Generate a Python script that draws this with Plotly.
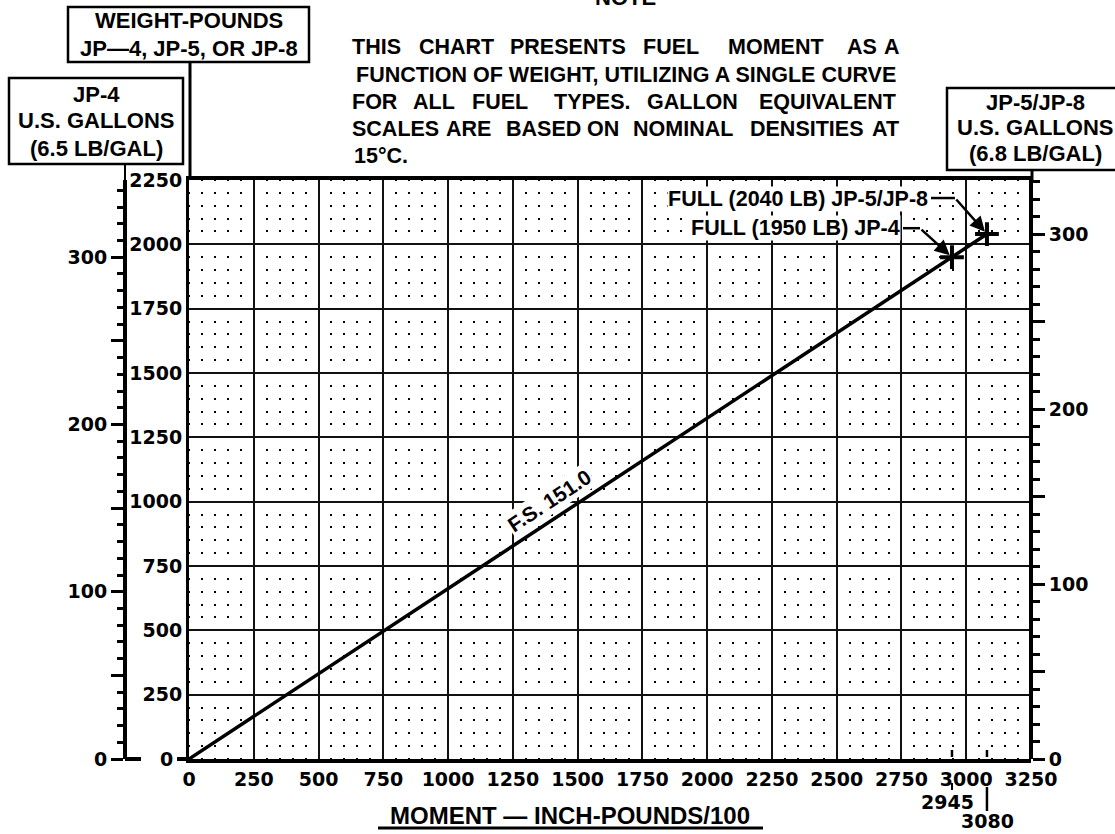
import math
import numpy as np
import plotly.graph_objects as go

W, H = 1115, 834

# ---------------- data ----------------
moment = [0, 2945, 3080]            # moment, inch-pounds / 100
weight_lb = [0, 1950, 2040]         # fuel weight, pounds (F.S. 151.0 arm)
full_moment = [2945, 3080]
full_weight = [1950, 2040]
full_labels = ["FULL (1950 LB) JP-4", "FULL (2040 LB) JP-5/JP-8"]
station_label = "F.S. 151.0"

moment_ticks = [0, 250, 500, 750, 1000, 1250, 1500, 1750, 2000, 2250, 2500, 2750, 3000, 3250]
weight_ticks = [0, 250, 500, 750, 1000, 1250, 1500, 1750, 2000, 2250]
gallon_ticks = [0, 50, 100, 150, 200, 250, 300]
gallon_tick_text = ["0", "", "100", "", "200", "", "300"]
jp4_lb_per_gal = 6.5
jp58_lb_per_gal = 6.8
moment_range = [0, 3250]
weight_range = [0, 2250]

# ---------------- layout helpers ----------------
L, R, T, B = 189, 1031, 180, 759       # plot box in pixels


def px(x):
    return x / W


def py(y):
    return 1 - y / H


dx = (R - L) / ((moment_range[1] - moment_range[0]) / 50)
dy = (B - T) / ((weight_range[1] - weight_range[0]) / 50)

NUM = dict(family="DejaVu Sans", size=19, color="black", weight="bold")

annotations = []
shapes = []


def text(s, x, y, size=21.5, anchor="center", family="Liberation Sans", **kw):
    annotations.append(dict(
        text=s, x=px(x), y=py(y), xref="paper", yref="paper",
        xanchor=anchor, yanchor="middle", showarrow=False,
        font=dict(family=family, size=size, color="black", weight="bold"), **kw))


def seg(x0, y0, x1, y1, w=3):
    shapes.append(dict(type="line", xref="paper", yref="paper",
                       x0=px(x0), y0=py(y0), x1=px(x1), y1=py(y1),
                       line=dict(color="black", width=w)))


def box(x0, y0, x1, y1):
    shapes.append(dict(type="rect", xref="paper", yref="paper",
                       x0=px(x0), y0=py(y0), x1=px(x1), y1=py(y1),
                       line=dict(color="black", width=2.5)))


# ---------------- traces ----------------
fig = go.Figure()
fig.add_trace(go.Scatter(x=moment, y=weight_lb, mode="lines",
                         line=dict(color="black", width=3.5), hoverinfo="skip"))
fig.add_trace(go.Scatter(x=full_moment, y=full_weight, mode="markers",
                         marker=dict(symbol="cross-thin", size=17,
                                     line=dict(color="black", width=4)),
                         hoverinfo="skip"))
# anchors for the two gallon scales
fig.add_trace(go.Scatter(x=[0], y=[0], yaxis="y2", mode="markers",
                         marker=dict(opacity=0), hoverinfo="skip"))
fig.add_trace(go.Scatter(x=[0], y=[0], yaxis="y3", mode="markers",
                         marker=dict(opacity=0), hoverinfo="skip"))

grid_major = dict(showgrid=True, gridcolor="#111", gridwidth=1.8)

fig.update_layout(
    template="none",
    width=W, height=H,
    margin=dict(l=0, r=0, t=0, b=0),
    paper_bgcolor="white", plot_bgcolor="white",
    showlegend=False,
    xaxis=dict(
        domain=[px(L), px(R)], range=moment_range, automargin=False,
        tickmode="array", tickvals=moment_ticks,
        ticktext=[str(v) for v in moment_ticks],
        ticks="", tickfont=NUM, zeroline=False,
        showline=True, linecolor="black", linewidth=4, mirror=True,
        minor=dict(tickmode="linear", tick0=0, dtick=50, ticks="", showgrid=True,
                   gridcolor="black", gridwidth=2,
                   griddash=f"1px,{dy - 2:.3f}px,1px,0px"),
        **grid_major),
    yaxis=dict(
        domain=[py(B), py(T)], range=weight_range, automargin=False,
        tickmode="array", tickvals=weight_ticks,
        ticktext=[""] + [str(v) for v in weight_ticks[1:]],
        ticks="", tickfont=NUM, zeroline=False,
        showline=True, linecolor="black", linewidth=3,
        minor=dict(tickmode="linear", tick0=0, dtick=50, ticks="", showgrid=True,
                   gridcolor="black", gridwidth=2,
                   griddash=f"1px,{dx - 2:.3f}px,1px,0px"),
        **grid_major),
    yaxis2=dict(
        overlaying="y", anchor="free", position=px(125), side="left",
        range=[0, weight_range[1] / jp4_lb_per_gal], automargin=False,
        tickmode="array", tickvals=gallon_ticks, ticktext=gallon_tick_text,
        ticks="outside", ticklen=12, tickwidth=3, tickcolor="black",
        minor=dict(tickmode="linear", tick0=0, dtick=10, ticks="outside",
                   ticklen=6, tickwidth=3, tickcolor="black", showgrid=False),
        showline=True, linecolor="black", linewidth=4,
        showgrid=False, zeroline=False, tickfont=NUM),
    yaxis3=dict(
        overlaying="y", anchor="free", position=px(R), side="right",
        range=[0, weight_range[1] / jp58_lb_per_gal], automargin=False,
        tickmode="array", tickvals=gallon_ticks, ticktext=gallon_tick_text,
        ticks="outside", ticklen=12, tickwidth=3, tickcolor="black",
        minor=dict(tickmode="linear", tick0=0, dtick=10, ticks="outside",
                   ticklen=7, tickwidth=3, tickcolor="black", showgrid=False),
        showline=True, linecolor="black", linewidth=4,
        showgrid=False, zeroline=False, tickfont=NUM),
)

# ---------------- scale header boxes ----------------
box(68, 7, 309, 62)
text("WEIGHT-POUNDS", 188.5, 21, size=22)
text("JP\u20144, JP-5, OR JP-8", 188.5, 49, size=22)
seg(190, 62, 190, 180, w=3)

box(9, 78, 183, 164)
text("JP-4", 96, 95, size=22)
text("U.S. GALLONS", 96, 121, size=22)
text("(6.5 LB/GAL)", 96, 148, size=22)
seg(125, 164, 125, 180, w=2)

box(947, 88, 1125, 170)
text("JP-5/JP-8", 1035, 102, size=22)
text("U.S. GALLONS", 1035, 128, size=22)
text("(6.8 LB/GAL)", 1035, 154, size=22)
seg(1032, 170, 1032, 180, w=3)

# ---------------- note ----------------
text("NOTE", 625, -3, size=22)
note_rows = [
    (47.5, [("THIS", 376), ("CHART", 456), ("PRESENTS", 568), ("FUEL", 671),
            ("MOMENT", 776), ("AS", 862), ("A", 892)]),
    (101.5, [("FOR", 375), ("ALL", 434), ("FUEL", 500), ("TYPES.", 592),
             ("GALLON", 692), ("EQUIVALENT", 827)]),
    (129, [("SCALES", 395), ("ARE", 468), ("BASED", 543), ("ON", 603),
           ("NOMINAL", 683), ("DENSITIES", 807), ("AT", 885)]),
]
for yy, words in note_rows:
    for w, xc in words:
        text(w, xc, yy)
text("FUNCTION OF WEIGHT, UTILIZING A SINGLE CURVE", 625.5, 74.5)
text("15\u00b0C.", 352, 156, anchor="left")

# ---------------- left gap details ----------------
seg(125, B, 141, B, w=4)
seg(177, B, 189, B, w=4)
text("0", 166, B, size=19, family="DejaVu Sans")

# ---------------- curve label ----------------
theta = math.atan((full_weight[1] * (B - T) / weight_range[1]) /
                  (full_moment[1] * (R - L) / moment_range[1]))
lab_m = 1430
lab_w = float(np.interp(lab_m, moment, weight_lb))
off = 18
annotations.append(dict(
    text=station_label, x=lab_m, y=lab_w, xref="x", yref="y",
    xshift=-off * math.sin(theta), yshift=off * math.cos(theta),
    textangle=-math.degrees(theta), showarrow=False, bgcolor="white", borderpad=1,
    font=dict(family="Liberation Sans", size=21, color="black", weight="bold")))

# ---------------- full-tank callouts ----------------
callouts = [
    # label right edge x, y, arrow tail offset
    (901, 228, -32, -29),
    (929, 199, -32, -36),
]
for i, (tx, ty, ax, ay) in enumerate(callouts):
    text(full_labels[i], tx, ty, anchor="right", bgcolor="white", borderpad=0)
    annotations.append(dict(
        x=full_moment[i], y=full_weight[i], xref="x", yref="y",
        ax=ax, ay=ay, text="", showarrow=True, arrowhead=2, arrowsize=1.2,
        arrowwidth=2.5, arrowcolor="black", standoff=3))
    cx = L + full_moment[i] * (R - L) / moment_range[1]
    cy = B - full_weight[i] * (B - T) / weight_range[1]
    seg(tx + 2, cy + ay, cx + ax, cy + ay, w=2.5)

# ---------------- full-tank moment marks on the axis ----------------
for m in full_moment:
    shapes.append(dict(type="line", xref="x", yref="paper", x0=m, x1=m,
                       y0=py(757), y1=py(750), line=dict(color="black", width=2.5)))
shapes.append(dict(type="line", xref="x", yref="paper", x0=full_moment[0], x1=full_moment[0],
                   y0=py(790), y1=py(783), line=dict(color="black", width=2)))
shapes.append(dict(type="line", xref="x", yref="paper", x0=full_moment[1], x1=full_moment[1],
                   y0=py(811), y1=py(787), line=dict(color="black", width=2.5)))
annotations.append(dict(text=str(full_moment[0]), x=full_moment[0], xref="x", xshift=-4,
                        y=py(802), yref="paper", showarrow=False, xanchor="center",
                        yanchor="middle", font=NUM))
annotations.append(dict(text=str(full_moment[1]), x=full_moment[1], xref="x", xshift=1,
                        y=py(821), yref="paper", showarrow=False, xanchor="center",
                        yanchor="middle", font=NUM))

# ---------------- axis title ----------------
text("MOMENT \u2014 INCH-POUNDS/100", 570, 815, size=24)
seg(378, 828, 763, 828, w=3)

fig.update_layout(annotations=annotations, shapes=shapes)
fig.write_html("out.html")
